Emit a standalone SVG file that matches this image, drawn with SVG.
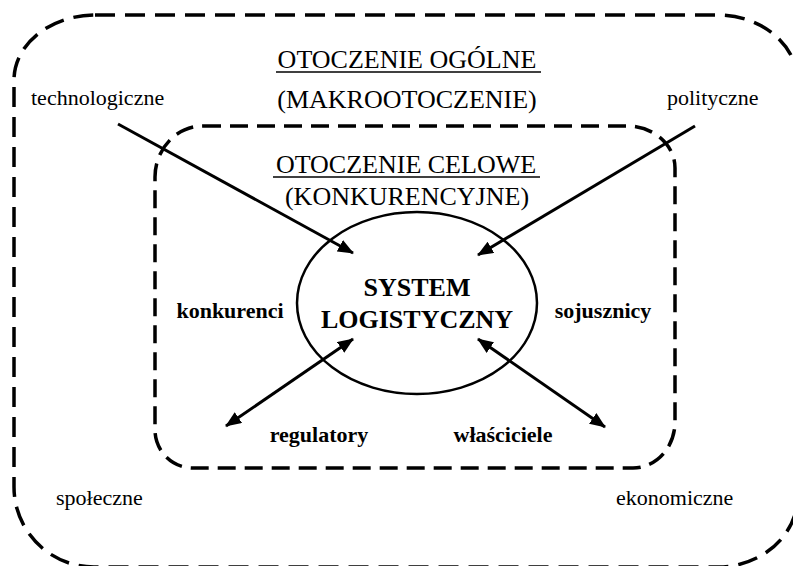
<svg xmlns="http://www.w3.org/2000/svg" width="793" height="566" viewBox="0 0 793 566">
<style>
.env{fill:none;stroke:#000;stroke-width:3.5;stroke-dasharray:20 10}
.inner{fill:none;stroke:#000;stroke-width:3.5;stroke-dasharray:18 9}
text{font-family:"Liberation Serif","Times New Roman",serif;fill:#000}
.title{font-size:26px;text-anchor:middle}
.lab{font-size:22px}
.b{font-weight:bold;font-size:22px;text-anchor:middle}
.arr{stroke:#000;stroke-width:3;fill:none}
</style>
<defs>
<marker id="ah" viewBox="0 0 16 13" refX="15" refY="6.5" markerWidth="16" markerHeight="13" orient="auto-start-reverse" markerUnits="userSpaceOnUse">
<path d="M0,0 L16,6.5 L0,13 z" fill="#000"/>
</marker>
</defs>
<g id="outer-env">
<path class="env" d="M95,15 H718 A80,68 0 0 1 798,83 V495 A80,72 0 0 1 718,567 H94 A80,80 0 0 1 14,487 V80 A81,65 0 0 1 95,15 Z"/>
<text class="title" x="407" y="68">OTOCZENIE OGÓLNE</text>
<line x1="276" y1="72" x2="541" y2="72" stroke="#000" stroke-width="1.5"/>
<text class="title" x="407" y="108">(MAKROOTOCZENIE)</text>
</g>
<g id="inner-env">
<path class="inner" d="M203,126 H627 A48,42 0 0 1 675,168 V422 A42,46 0 0 1 633,468 H193 A38,38 0 0 1 155,430 V177 A48,51 0 0 1 203,126 Z"/>
<text class="title" x="406" y="173">OTOCZENIE CELOWE</text>
<line x1="273" y1="177" x2="540" y2="177" stroke="#000" stroke-width="1.5"/>
<text class="title" x="407" y="205">(KONKURENCYJNE)</text>
</g>
<g id="system">
<ellipse cx="417" cy="303" rx="120" ry="91" fill="none" stroke="#000" stroke-width="2.5"/>
<text x="417" y="296" font-size="26" font-weight="bold" text-anchor="middle">SYSTEM</text>
<text x="417" y="328" font-size="26" font-weight="bold" text-anchor="middle">LOGISTYCZNY</text>
</g>
<g id="technologiczne"><text class="lab" x="31" y="105">technologiczne</text></g>
<g id="polityczne"><text class="lab" x="667" y="105">polityczne</text></g>
<g id="spoleczne"><text class="lab" x="56" y="505">społeczne</text></g>
<g id="ekonomiczne"><text class="lab" x="616" y="505">ekonomiczne</text></g>
<g id="konkurenci"><text class="b" x="230" y="318">konkurenci</text></g>
<g id="sojusznicy"><text class="b" x="603" y="318">sojusznicy</text></g>
<g id="regulatory"><text class="b" x="319" y="442">regulatory</text></g>
<g id="wlasciciele"><text class="b" x="503" y="442">właściciele</text></g>
<g id="connectors">
<line class="arr" x1="118" y1="124" x2="353" y2="253" marker-end="url(#ah)"/>
<line class="arr" x1="695" y1="126" x2="478" y2="255" marker-end="url(#ah)"/>
<line class="arr" x1="226" y1="426" x2="353" y2="339" marker-start="url(#ah)" marker-end="url(#ah)"/>
<line class="arr" x1="605" y1="427" x2="478" y2="339" marker-start="url(#ah)" marker-end="url(#ah)"/>
</g>
</svg>
